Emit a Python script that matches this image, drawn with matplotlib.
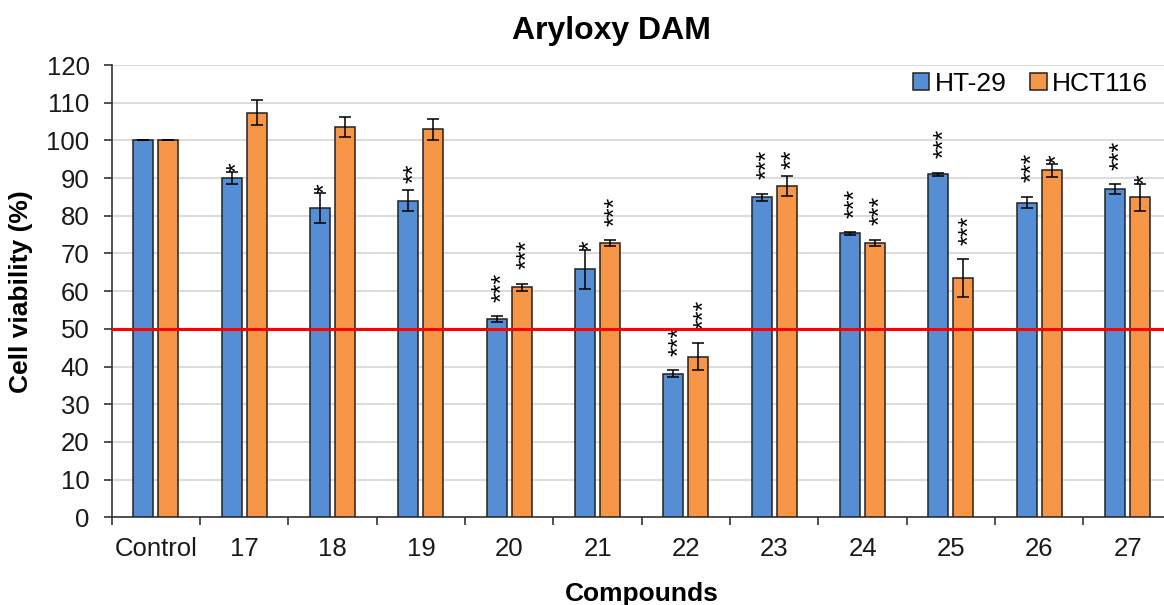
import numpy as np
import matplotlib
matplotlib.use("Agg")
import matplotlib.pyplot as plt

plt.rcParams['font.family'] = ['Liberation Sans', 'DejaVu Sans']

# data
compounds = ["Control", "17", "18", "19", "20", "21", "22", "23", "24", "25", "26", "27"]
ht29 = [100.0, 90.0, 82.0, 84.0, 52.6, 65.8, 38.1, 84.9, 75.3, 91.0, 83.5, 87.1]
ht29_err = [0.0, 1.5, 4.0, 2.8, 0.8, 5.1, 0.9, 1.0, 0.3, 0.4, 1.5, 1.3]
hct116 = [100.0, 107.4, 103.6, 102.9, 61.0, 72.7, 42.6, 87.9, 72.9, 63.4, 92.1, 84.9]
hct116_err = [0.0, 3.3, 2.7, 2.8, 1.0, 0.8, 3.6, 2.6, 0.8, 5.0, 1.7, 3.5]
ht29_sig = ["", "*", "*", "**", "***", "*", "***", "***", "***", "***", "***", "***"]
hct116_sig = ["", "", "", "", "***", "***", "***", "**", "***", "***", "*", "*"]

blue = "#558ed5"
orange = "#f79646"

fig = plt.figure(figsize=(11.64, 6.05), dpi=100)
# axes runs a bit past the right edge of the image, like the cropped original
ax = fig.add_axes([0.0960, 0.1450, 0.9107, 0.7475])

x = np.arange(len(compounds))
w = 0.226
off = 0.1415

ax.bar(x - off, ht29, w, color=blue, edgecolor="#222222", linewidth=1.1, label="HT-29", zorder=3)
ax.bar(x + off, hct116, w, color=orange, edgecolor="#222222", linewidth=1.1, label="HCT116", zorder=3)
ax.errorbar(x - off, ht29, yerr=ht29_err, fmt="none", ecolor="black", elinewidth=1.1, capsize=4.3, capthick=1.1, zorder=4)
ax.errorbar(x + off, hct116, yerr=hct116_err, fmt="none", ecolor="black", elinewidth=1.1, capsize=4.3, capthick=1.1, zorder=4)

# significance stars, stacked vertically above the error bars
# (x nudge because the asterisk sits high in the em box, so it drifts left when rotated)
def stars(xs, vals, errs, sigs):
    for xi, v, e, s in zip(xs, vals, errs, sigs):
        if s:
            ax.annotate(s, (xi, v + e), xytext=(4, 5.2 * (len(s) - 1)), textcoords="offset points",
                        rotation=90, ha="center", va="bottom", fontsize=18, zorder=5)

stars(x - off, ht29, ht29_err, ht29_sig)
stars(x + off, hct116, hct116_err, hct116_sig)

ax.axhline(50, color="#ff0000", linewidth=2.2, zorder=6)

ax.set_xlim(-0.5, len(compounds) - 0.5)
ax.set_ylim(0, 120)
ax.set_yticks(np.arange(0, 121, 10))
ax.set_xticks(x)
ax.set_xticklabels(compounds)
ax.set_xticks(np.arange(-0.5, len(compounds), 1), minor=True)
ax.tick_params(axis="x", which="major", length=0, labelsize=18.5, pad=14, colors="#1a1a1a")
ax.tick_params(axis="x", which="minor", length=5.5, width=1.2, color="#333333")
ax.tick_params(axis="y", length=5.5, width=1.2, pad=10.5, labelsize=18.5, color="#333333", labelcolor="#1a1a1a")

ax.grid(axis="y", color="#d9d9d9", linewidth=1.3, zorder=0)
ax.set_axisbelow(True)
for side in ["top", "right"]:
    ax.spines[side].set_visible(False)
ax.spines["left"].set_color("#333333")
ax.spines["left"].set_linewidth(1.2)
ax.spines["bottom"].set_color("#333333")
ax.spines["bottom"].set_linewidth(1.2)

fig.text(0.525, 1 - 39.5 / 605, "Aryloxy DAM", fontsize=23, fontweight="bold", ha="center", va="baseline")
ax.set_ylabel("Cell viability (%)", fontsize=19, fontweight="bold")
ax.yaxis.set_label_coords(-0.074, 0.5)
ax.set_xlabel("Compounds", fontsize=19, fontweight="bold", labelpad=15)

ax.legend(loc="center right", bbox_to_anchor=(1148 / 1164, 1 - 84 / 605), bbox_transform=fig.transFigure,
          ncol=2, frameon=False, fontsize=19, borderpad=0, borderaxespad=0,
          handlelength=0.63, handleheight=0.63, handletextpad=0.2, columnspacing=0.9)

fig.savefig("out.png", dpi=100)
